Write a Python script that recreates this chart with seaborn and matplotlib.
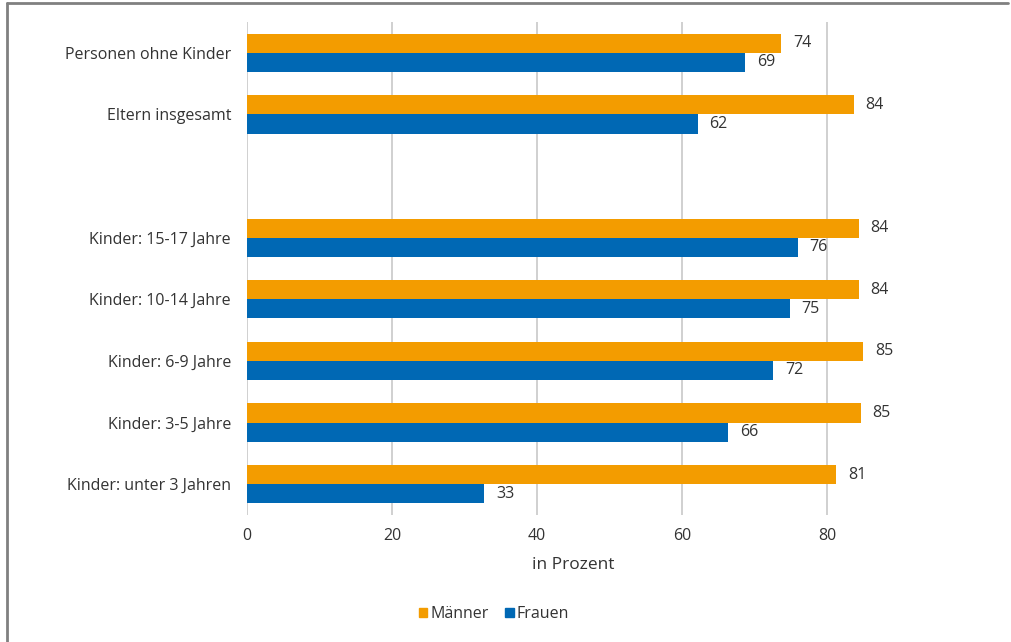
import matplotlib
matplotlib.use("Agg")
import matplotlib.pyplot as plt
import matplotlib.lines as mlines
import matplotlib.patches as mpatches
import seaborn as sns
import pandas as pd
import numpy as np

categories = ["Personen ohne Kinder", "Eltern insgesamt", " ",
              "Kinder: 15-17 Jahre", "Kinder: 10-14 Jahre", "Kinder: 6-9 Jahre",
              "Kinder: 3-5 Jahre", "Kinder: unter 3 Jahren"]
maenner = [73.6, 83.6, np.nan, 84.3, 84.3, 84.9, 84.6, 81.2]
frauen = [68.7, 62.1, np.nan, 75.9, 74.8, 72.5, 66.3, 32.7]
series = ["Männer", "Frauen"]
colors = ["#F39C00", "#0068B4"]
xticks = [0, 20, 40, 60, 80]

sns.set_style("white")
plt.rcParams["font.family"] = ["Open Sans", "DejaVu Sans"]
text_color = "#333333"

rows = []
for c, m, f in zip(categories, maenner, frauen):
    rows.append({"cat": c, "val": m, "ser": series[0]})
    rows.append({"cat": c, "val": f, "ser": series[1]})
df = pd.DataFrame(rows)

fig = plt.figure(figsize=(10.11, 6.42), dpi=100)
ax = fig.add_axes([247/1011, 1-515/642, (900-247)/1011, (515-22)/642])

sns.barplot(data=df, x="val", y="cat", hue="ser", order=categories, hue_order=series,
            palette=colors, width=0.62, orient="h", ax=ax, legend=False,
            saturation=1, linewidth=0)

for cont in ax.containers:
    labels = ["" if np.isnan(v) else f"{v:.0f}" for v in cont.datavalues]
    ax.bar_label(cont, labels=labels, padding=8.5, fontsize=11.5, color=text_color)

ax.set_xlim(0, 90)
ax.set_ylim(len(categories) - 0.5, -0.5)
ax.set_xticks(xticks)
ax.set_xticklabels([str(t) for t in xticks])
ax.grid(axis="x", color="#C8C8C8", linewidth=1.2)
ax.grid(axis="y", visible=False)
ax.set_axisbelow(True)
for s in ax.spines.values():
    s.set_visible(False)
ax.tick_params(axis="both", length=0, labelsize=11.5, colors=text_color)
ax.tick_params(axis="x", pad=9.5)
ax.tick_params(axis="y", pad=11.5)
ax.set_ylabel("")
ax.set_xlabel("in Prozent", fontsize=12.5, color=text_color, labelpad=9.5)

handles = [mpatches.Patch(color=c, label=s) for c, s in zip(colors, series)]
fig.legend(handles=handles, loc="center", bbox_to_anchor=(494/1011, 1-614/642),
           ncol=2, frameon=False, fontsize=11.5, handlelength=0.55, handleheight=0.55,
           handletextpad=0.2, columnspacing=1.0, labelcolor=text_color)

# figure frame (top and left)
fig.add_artist(mlines.Line2D([6.5/1011, 1008/1011], [1-2.5/642, 1-2.5/642],
                             transform=fig.transFigure, color="#808080", linewidth=2))
fig.add_artist(mlines.Line2D([6.5/1011, 6.5/1011], [0, 1-2.5/642],
                             transform=fig.transFigure, color="#808080", linewidth=2))

fig.savefig("out.png", dpi=100)
